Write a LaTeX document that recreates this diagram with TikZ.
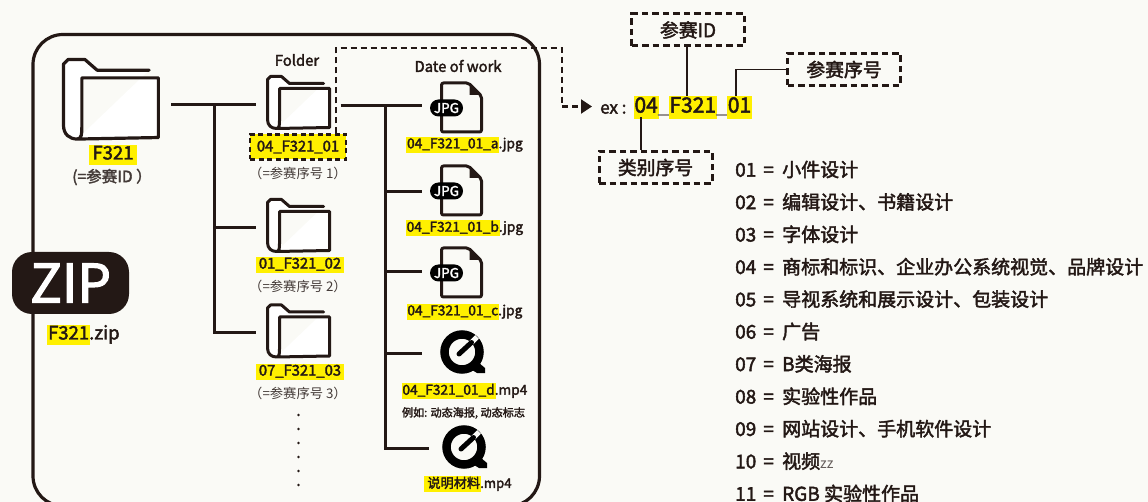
\documentclass[tikz,border=0pt]{standalone}
\usepackage{fontspec}
\setmainfont{Noto Sans CJK SC}
\newfontfamily\medfont[FakeBold=2.2]{Noto Sans CJK SC}
\usetikzlibrary{arrows.meta,positioning}
\definecolor{inkdark}{HTML}{231815}
\definecolor{markyel}{HTML}{FFF000}
\definecolor{paperbg}{HTML}{FAFAF6}
\setlength{\fboxsep}{0.8pt}
\newcommand{\hilite}[1]{\colorbox{markyel}{\vphantom{Ag\_}#1}}
\newcommand{\fsz}[1]{\fontsize{#1}{#1}\selectfont}
\tikzset{
  treeline/.style={draw=inkdark,line width=3pt},
  thinline/.style={draw=inkdark,line width=1.8pt},
  dashbox/.style={draw=inkdark,line width=3pt,dash pattern=on 6.5pt off 4pt,
    minimum width=113pt,minimum height=32pt,inner sep=0pt,font=\medfont\fsz{18.8},text=inkdark},
  iconbox/.style={inner sep=0pt,minimum height=50pt},
  labtext/.style={inner sep=0pt,text=inkdark,font=\medfont\fsz{14.8}},
  subtext/.style={inner sep=0pt,text=inkdark!85,font=\fsz{13.3}},
  headtext/.style={inner sep=0pt,text=inkdark,font=\medfont\fsz{14.8}},
  rowtext/.style={anchor=west,inner sep=0pt,text=inkdark,font=\medfont\fsz{19}},
  pics/foldericon/.style={code={
    \draw[inkdark,line width=#1,line join=round,line cap=round,fill=white]
      (56,7) -- (22,7) -- (14,0) -- (3,0) -- (0,3) -- (0,43) .. controls (0,49) and (4,52) .. (9,52)
      .. controls (12,52) and (12,48) .. (12,44) -- (12,12) -- (62,12) -- (62,51) -- (9,52);
  }},
  pics/jpgicon/.style={code={
    \draw[inkdark,line width=3pt,line join=round,fill=paperbg,rounded corners=2pt]
      (0,1) -- (27,1) -- (40,14) -- (40,50) -- (0,50) -- cycle;
    \fill[inkdark] (28,3) -- (28,13) -- (38,13) -- cycle;
    \node[inner sep=0pt,minimum width=33pt,minimum height=17pt,rounded corners=8.5pt,fill=black,
      text=white,font=\medfont\fsz{13.5}] (#1) at (5,26) {JPG};
  }},
  pics/qticon/.style={code={
    \fill[black] (10,18) -- (17,11) -- (23,16) -- (23,21) -- (15,21) -- cycle;
    \draw[black,line width=8.5pt] (0,0) circle[radius=17.5pt];
    \draw[paperbg,line width=5pt] (6,-6) -- (15,-15);
    \draw[black,line width=5pt,line cap=round] (-3,2) -- (9.5,-9.5);
  }},
}
\begin{document}
\begin{tikzpicture}[x=1pt,y=-1pt]
  \useasboundingbox (0,0) rectangle (1148,502);
  \clip (0,0) rectangle (1148,502);
  \fill[paperbg] (0,0) rectangle (1148,502);
  \draw[inkdark,line width=3.2pt,rounded corners=30pt] (33,34.5) rectangle (539.5,506);

  % folders
  \node[iconbox,minimum width=120pt] (topfold) at (111,105) {};
  \node[iconbox,minimum width=84pt] (foldA) at (298.5,105) {};
  \node[iconbox,minimum width=84pt] (foldB) at (298.5,228) {};
  \node[iconbox,minimum width=84pt] (foldC) at (298.5,333) {};
  \pic[scale=1.53] at (63.5,59.5) {foldericon=3.2pt};
  \pic at (267.5,76.5) {foldericon=3pt};
  \pic at (267.5,199.5) {foldericon=3pt};
  \pic at (267.5,305) {foldericon=3pt};

  % files
  \node[iconbox,minimum width=68pt] (docA) at (456,106) {};
  \node[iconbox,minimum width=68pt] (docB) at (456,191.5) {};
  \node[iconbox,minimum width=68pt] (docC) at (456,272) {};
  \node[iconbox,minimum width=80pt] (movA) at (462,354) {};
  \node[iconbox,minimum width=70pt] (movB) at (464,448) {};
  \pic at (441.5,82) {jpgicon=pillA};
  \pic at (441.5,165) {jpgicon=pillB};
  \pic at (441.5,247) {jpgicon=pillC};
  \pic at (462,352) {qticon};
  \pic at (464,447) {qticon};

  % trees
  \coordinate (trunkL) at (214,105);
  \coordinate (trunkR) at (385.5,106);
  \draw[treeline] (topfold.east) -- (foldA.west);
  \draw[treeline] (trunkL) |- (foldB.west);
  \draw[treeline] (trunkL) |- (foldC.west);
  \draw[treeline] (foldA.east |- trunkR) -- (docA.west);
  \draw[treeline] (trunkR) |- (docB.west);
  \draw[treeline] (trunkR) |- (docC.west);
  \draw[treeline] (trunkR) |- (movA.west);
  \draw[treeline] (trunkR) |- (movB.west);

  \node[inner sep=0pt,minimum width=117pt,minimum height=62pt,rounded corners=20pt,fill=inkdark,
    text=white,font=\medfont\fsz{53}] (zipbox) at (70.5,283) {ZIP};
  \node[labtext,font=\medfont\fsz{18.5}] (ziplab) at (83.5,335) {\hilite{F321}\kern-0.8pt.zip};

  \node[labtext,font=\medfont\fsz{18.5}] (toplab) at (113,155) {\hilite{\,F321\,}};
  \node[subtext,font=\medfont\fsz{15.6}] (topsub) at (112,177) {(=参赛ID ）};
  \node[headtext] (folderhd) at (297,60) {Folder};
  \node[headtext] (datehd) at (458,66) {Date of work};

  % folder labels
  \node[labtext,fill=markyel,draw=inkdark,line width=2.2pt,dash pattern=on 5pt off 3.5pt,
    minimum width=96pt,minimum height=25pt] (labA) at (298,147) {04\_F321\_01};
  \node[labtext] (labB) at (300,265) {\hilite{\,01\_F321\_02\,}};
  \node[labtext] (labC) at (300,372) {\hilite{\,07\_F321\_03\,}};
  \node[subtext] (subA) at (298,173) {（=参赛序号 1）};
  \node[subtext] (subB) at (298,286) {（=参赛序号 2）};
  \node[subtext] (subC) at (298,393) {（=参赛序号 3）};
  \foreach \y in {415,429,443,457,471,485} \fill[inkdark] (298.5,\y) circle[radius=1.4pt];

  % file labels
  \node[labtext,font=\medfont\fsz{13.7}] (nameA) at (464.5,145) {\hilite{04\_F321\_01\_a}\kern-0.8pt.jpg};
  \node[labtext,font=\medfont\fsz{13.7}] (nameB) at (464.5,228) {\hilite{04\_F321\_01\_b}\kern-0.8pt.jpg};
  \node[labtext,font=\medfont\fsz{13.7}] (nameC) at (464.5,312) {\hilite{04\_F321\_01\_c}\kern-0.8pt.jpg};
  \node[labtext,font=\medfont\fsz{13.7}] (nameD) at (464.5,391) {\hilite{04\_F321\_01\_d}\kern-0.8pt.mp4};
  \node[labtext,font=\medfont\fsz{11.1}] (noteD) at (463.5,413) {例如: 动态海报, 动态标志};
  \node[labtext,font=\medfont\fsz{13.2}] (nameE) at (468,484) {\hilite{\,说明材料}\kern-0.8pt.mp4};

  % example
  \node[labtext,font=\medfont\fsz{17},anchor=west] (exlab) at (600,109) {ex :};
  \node[labtext,font=\medfont\fsz{21},anchor=west] (exnum) at (633.5,107.5)
    {\hilite{04}\kern-0.8pt{\color{inkdark!60}\_}\kern-0.8pt\hilite{F321}\kern-0.8pt{\color{inkdark!60}\_}\kern-0.8pt\hilite{01}};
  \node[dashbox] (idbox) at (688,30) {参赛ID};
  \node[dashbox] (seqbox) at (844,69.5) {参赛序号};
  \node[dashbox] (typebox) at (655.5,167.5) {类别序号};
  \draw[thinline] ([xshift=-1pt]idbox.south) -- ([xshift=-1pt]idbox.south |- exnum.north);
  \draw[thinline] ([xshift=-14.5pt]typebox.north) -- ([xshift=-14.5pt,yshift=2pt]typebox.north |- exnum.south);
  \draw[thinline] (seqbox.west) -| ([xshift=-16pt]exnum.north east);
  \draw[inkdark,line width=2.1pt,dash pattern=on 6pt off 4pt,-{Triangle[length=11pt,width=14pt]}]
    ([xshift=-11pt]labA.north east) |- (562,48) |- (592,106.5);

  % category list
  \foreach \n/\t [count=\i from 0] in {01/小件设计,02/编辑设计、书籍设计,03/字体设计,
      04/商标和标识、企业办公系统视觉、品牌设计,05/导视系统和展示设计、包装设计,06/广告,
      07/B类海报,08/实验性作品,09/网站设计、手机软件设计,
      10/视频{\normalfont\fsz{14}\color{inkdark!70}zz},11/RGB 实验性作品}
    \node[rowtext] (row\n) at (735,169.5+32.4*\i) {\makebox[47pt][l]{\n\hspace{7pt}=}\t};
\end{tikzpicture}
\end{document}
